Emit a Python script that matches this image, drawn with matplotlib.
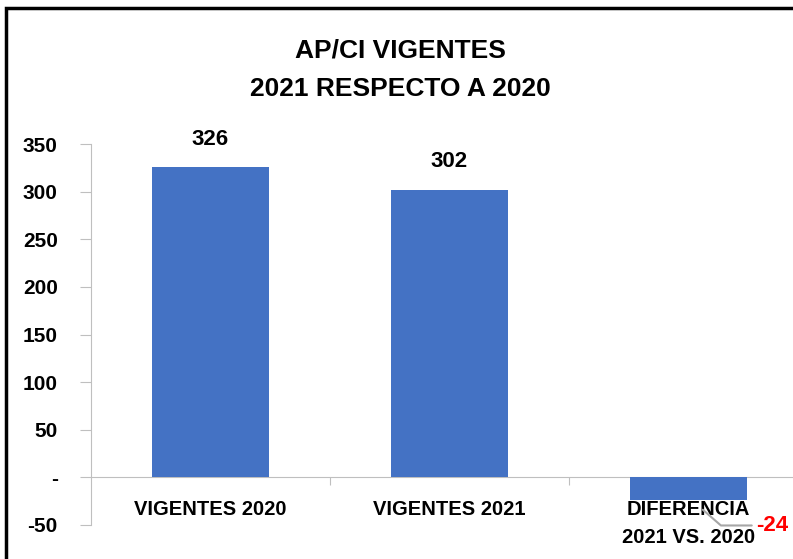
import matplotlib
matplotlib.use("Agg")
import matplotlib.pyplot as plt
from matplotlib.patches import Rectangle

plt.rcParams['font.family'] = ['Liberation Sans', 'DejaVu Sans']

categories = ["VIGENTES 2020", "VIGENTES 2021", "DIFERENCIA\n2021 VS. 2020"]
values = [326, 302, -24]
yticks = [-50, 0, 50, 100, 150, 200, 250, 300, 350]
ytick_labels = ["-50", "-", "50", "100", "150", "200", "250", "300", "350"]
title = "AP/CI VIGENTES\n2021 RESPECTO A 2020"

W, H = 793, 559
fig = plt.figure(figsize=(W/100, H/100), dpi=100)
ax = fig.add_axes([91/W, 1-525/H, (808-91)/W, (525-144)/H])

BLUE = '#4472C4'
GREY = '#BFBFBF'
x = list(range(len(categories)))
ax.bar(x, values, width=0.49, color=BLUE, zorder=2)
ax.set_xlim(-0.5, 2.5)
ax.set_ylim(-50, 350)

ax.spines['top'].set_visible(False)
ax.spines['right'].set_visible(False)
ax.spines['bottom'].set_position(('data', 0))
ax.spines['bottom'].set_color(GREY)
ax.spines['left'].set_color(GREY)
ax.spines['bottom'].set_zorder(1)

ax.set_yticks(yticks)
ax.set_yticklabels(ytick_labels, fontsize=15, fontweight='bold')
ax.tick_params(axis='y', length=8, color=GREY, pad=16)
ax.set_xticks([0.5, 1.5])
ax.set_xticklabels([])
ax.tick_params(axis='x', length=6, color=GREY, direction='out')

for i, (c, v) in enumerate(zip(categories, values)):
    ax.annotate(c, xy=(i, 0), xytext=(0, -16), textcoords='offset points',
                ha='center', va='top', fontsize=14.5, fontweight='bold',
                linespacing=1.6, zorder=3)

for i, v in enumerate(values[:2]):
    ax.annotate(f"{v}", xy=(i, v), xytext=(0, 20), textcoords='offset points',
                ha='center', va='center', fontsize=16, fontweight='bold')

# negative value label with leader line
ax.annotate(f"{values[2]}", xy=(2.06, values[2] - 10), xytext=(2.282, -50.5),
            ha='left', va='center', fontsize=16, fontweight='bold', color='red',
            arrowprops=dict(arrowstyle='-', color='#A6A6A6', lw=1.5,
                            connectionstyle='angle,angleA=180,angleB=139,rad=0',
                            shrinkA=1, shrinkB=0),
            zorder=4, annotation_clip=False)

fig.text(400/W, 1-70/H, title, ha='center', va='center', fontsize=19,
         fontweight='bold', linespacing=1.75)

fig.patches.append(Rectangle((6/W, -0.1), 1.2, 1 - 8/H + 0.1, transform=fig.transFigure,
                             fill=False, edgecolor='black', lw=2.5))

fig.savefig('out.png', dpi=100)
